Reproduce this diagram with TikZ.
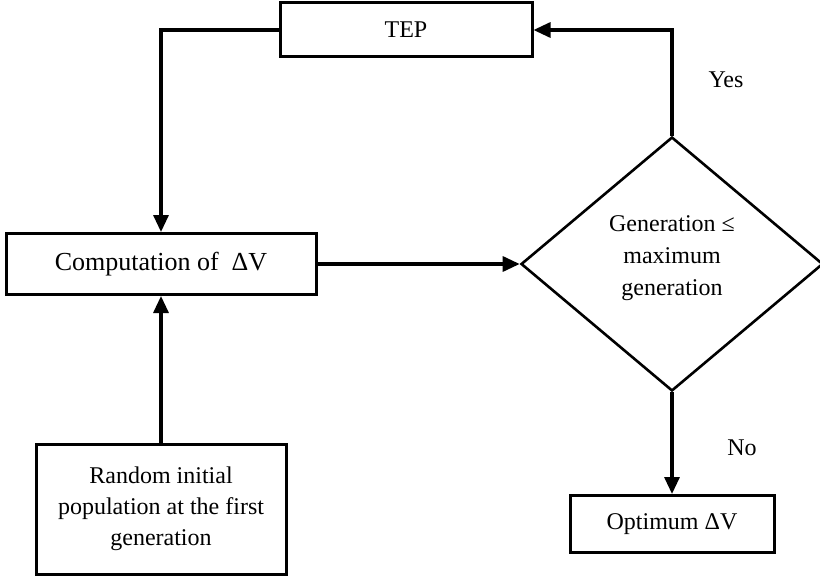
\documentclass[tikz,border=0pt]{standalone}
\usepackage{fontspec}
\setmainfont{Liberation Serif}
\usetikzlibrary{shapes.geometric,arrows.meta}
\tikzset{
  every node/.style={font=\fontsize{24}{32}\selectfont},
  boxnode/.style={draw, line width=3pt, rectangle, inner sep=0pt, align=center},
  dianode/.style={draw, line width=2.6pt, diamond, inner sep=0pt, align=center},
  arr/.style={line width=3.2pt, -{Triangle[length=17pt,width=15pt]}},
  lbl/.style={inner sep=0pt}
}
\begin{document}
\begin{tikzpicture}[x=1pt,y=-1pt]
\useasboundingbox (0,0) rectangle (820,578);
\node[boxnode, minimum width=252pt, minimum height=54pt] (tep) at (406,30) {TEP};
\node[boxnode, minimum width=310pt, minimum height=61pt, font=\fontsize{26}{32}\selectfont] (comp) at (161,264) {Computation of \ ΔV};
\node[boxnode, minimum width=250pt, minimum height=130pt, font=\fontsize{24}{31}\selectfont] (rand) at (161,509) {Random initial\\population at the first\\generation};
\node[dianode, minimum width=302pt, minimum height=254pt] (dia) at (672,264) {};
\node[lbl, align=center] (dtext) at (672,258) {Generation ≤\\maximum\\generation};
\node[boxnode, minimum width=204pt, minimum height=57pt] (opt) at (672,524) {Optimum ΔV};
\node[lbl] (yes) at (726,80) {Yes};
\node[lbl] (no) at (742,448) {No};
\draw[arr] (dia.north) |- (tep.east);
\draw[arr] (tep.west) -| (comp.north);
\draw[arr] (rand.north) -- (comp.south);
\draw[arr] (comp.east) -- (dia.west);
\draw[arr] (dia.south) -- (opt.north);
\end{tikzpicture}
\end{document}
